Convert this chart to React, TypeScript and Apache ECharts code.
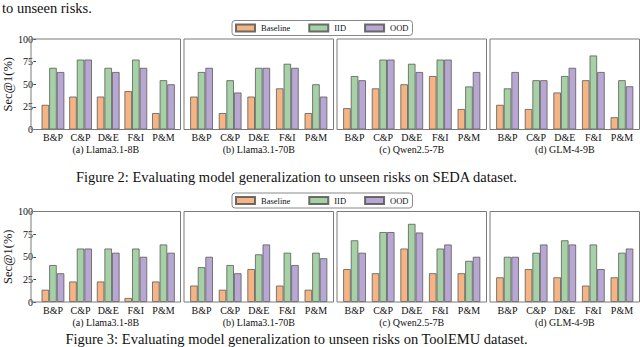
import React, { useEffect, useRef } from "react";
import * as echarts from "echarts";

const categories = ["B&P", "C&P", "D&E", "F&I", "P&M"];
const modelLabels = ["(a) Llama3.1-8B", "(b) Llama3.1-70B", "(c) Qwen2.5-7B", "(d) GLM-4-9B"];
const seriesNames = ["Baseline", "IID", "OOD"];
const yTicks = [0, 25, 50, 75, 100];

// SEDA dataset (Figure 2), one row per model
const sedaBaseline = [
  [27.3, 36.4, 36.4, 42.4, 18.2],
  [36.4, 18.2, 36.4, 45.5, 18.2],
  [23.6, 45.5, 50.0, 59.1, 22.7],
  [27.3, 22.7, 40.9, 54.5, 13.6],
];
const sedaIID = [
  [68.2, 77.3, 68.2, 77.3, 54.5],
  [63.6, 54.5, 68.2, 72.7, 50.0],
  [59.1, 77.3, 72.7, 77.3, 47.6],
  [45.5, 54.5, 59.1, 81.8, 54.5],
];
const sedaOOD = [
  [63.6, 77.3, 63.6, 68.2, 50.0],
  [68.2, 40.9, 68.2, 68.2, 36.4],
  [54.5, 77.3, 63.6, 77.3, 63.6],
  [63.6, 54.5, 68.2, 63.6, 47.8],
];

// ToolEMU dataset (Figure 3)
const toolBaseline = [
  [13.6, 22.7, 22.7, 4.5, 22.7],
  [18.2, 13.6, 36.4, 18.2, 13.6],
  [36.4, 31.8, 59.1, 31.8, 31.8],
  [27.3, 36.4, 27.3, 18.2, 27.3],
];
const toolIID = [
  [40.9, 59.1, 59.1, 59.1, 63.6],
  [38.5, 40.9, 52.7, 54.5, 54.5],
  [68.2, 77.3, 86.4, 59.1, 45.5],
  [50.0, 54.5, 68.2, 63.6, 54.5],
];
const toolOOD = [
  [31.8, 59.1, 54.5, 50.0, 54.5],
  [50.0, 31.8, 63.6, 40.9, 48.4],
  [54.5, 77.3, 76.8, 63.6, 50.0],
  [50.0, 63.6, 63.6, 36.4, 59.1],
];

const topText = "to unseen risks.";
const fig2Caption = "Figure 2: Evaluating model generalization to unseen risks on SEDA dataset.";
const fig3Caption = "Figure 3: Evaluating model generalization to unseen risks on ToolEMU dataset.";

const COLORS = ["#F4B483", "#A6D1A6", "#B8A7D3"];
const SERIF = "'Liberation Serif', 'Times New Roman', serif";

// layout
const PANEL_LEFT = [31, 184, 337, 490];
const PANEL_W = 149.5;
const PANEL_H = 90.5;
const ROW_TOP = [39, 211.5];
const INSET = 3.25;
const ROW_SHIFT = 172.5;

export default function App() {
  const ref = useRef<HTMLDivElement>(null);
  useEffect(() => {
    document.body.style.margin = "0";
    const chart = echarts.init(ref.current!, null, { renderer: "svg" });
    const rows = [
      [sedaBaseline, sedaIID, sedaOOD],
      [toolBaseline, toolIID, toolOOD],
    ];
    const grid: any[] = [];
    const xAxis: any[] = [];
    const yAxis: any[] = [];
    const series: any[] = [];
    const graphic: any[] = [];

    rows.forEach((rowData, r) => {
      PANEL_LEFT.forEach((pl, c) => {
        const gi = r * 4 + c;
        grid.push({
          left: pl + INSET,
          top: ROW_TOP[r],
          width: PANEL_W - 2 * INSET,
          height: PANEL_H,
        });
        xAxis.push({
          type: "category",
          gridIndex: gi,
          data: categories,
          axisLine: { show: false },
          axisTick: { show: false },
          axisLabel: { interval: 0, fontFamily: SERIF, fontSize: 10, color: "#111", margin: 3 },
        });
        yAxis.push({
          type: "value",
          gridIndex: gi,
          min: 0,
          max: 100,
          interval: 25,
          offset: INSET,
          splitLine: { show: false },
          axisLine: { show: false },
          axisTick: { show: c === 0, length: 2.5, lineStyle: { color: "#333" } },
          axisLabel: {
            show: c === 0,
            fontFamily: SERIF,
            fontSize: 10,
            color: "#111",
            margin: 3,
            formatter: (v: number) => (yTicks.includes(v) ? String(v) : ""),
          },
          name: c === 0 ? "Sec@1(%)" : "",
          nameLocation: "middle",
          nameGap: 16,
          nameTextStyle: { fontFamily: SERIF, fontSize: 12.5, color: "#111" },
        });
        rowData.forEach((arr, s) => {
          series.push({
            type: "bar",
            name: seriesNames[s],
            xAxisIndex: gi,
            yAxisIndex: gi,
            data: arr[c],
            barWidth: 7.6,
            barGap: "0%",
            itemStyle: {
              color: COLORS[s],
              borderColor: "rgba(85,85,85,0.85)",
              borderWidth: 0.9,
            },
          });
        });
        graphic.push({
          type: "rect",
          shape: { x: pl, y: ROW_TOP[r], width: PANEL_W, height: PANEL_H },
          style: { fill: "none", stroke: "#7a7a7a", lineWidth: 1 },
          z: 100,
        });
        graphic.push({
          type: "text",
          x: pl + PANEL_W / 2,
          y: 149.7 + r * ROW_SHIFT,
          style: {
            text: modelLabels[c],
            fontFamily: SERIF,
            fontSize: 10,
            fill: "#111",
            align: "center",
            verticalAlign: "middle",
          },
        });
      });
    });

    graphic.push({
      type: "text",
      x: 2,
      y: 7.5,
      style: { text: topText, fontFamily: SERIF, fontSize: 14.5, fill: "#111", align: "left", verticalAlign: "middle" },
    });
    graphic.push({
      type: "text",
      x: 296.5,
      y: 177,
      style: { text: fig2Caption, fontFamily: SERIF, fontSize: 14.5, fill: "#111", align: "center", verticalAlign: "middle" },
    });
    graphic.push({
      type: "text",
      x: 296.5,
      y: 339,
      style: { text: fig3Caption, fontFamily: SERIF, fontSize: 14.5, fill: "#111", align: "center", verticalAlign: "middle" },
    });

    const legendBase = {
      data: seriesNames,
      left: 232,
      icon: "rect",
      itemWidth: 19,
      itemHeight: 7,
      itemGap: 18,
      padding: [3, 4, 3, 3],
      backgroundColor: "#fff",
      borderColor: "#888",
      borderWidth: 1,
      borderRadius: 3,
      textStyle: { fontFamily: SERIF, fontSize: 8.5, color: "#111", padding: [0, 0, 0, 1] },
      z: 50,
    };

    chart.setOption({
      animation: false,
      backgroundColor: "#fff",
      legend: [
        { ...legendBase, top: 20.5 },
        { ...legendBase, top: 20.5 + ROW_SHIFT },
      ],
      grid,
      xAxis,
      yAxis,
      series,
      graphic,
    });
    return () => chart.dispose();
  }, []);
  return (
    <div
      ref={ref}
      style={{ position: "fixed", left: 0, top: 0, width: 640, height: 347 }}
    />
  );
}
